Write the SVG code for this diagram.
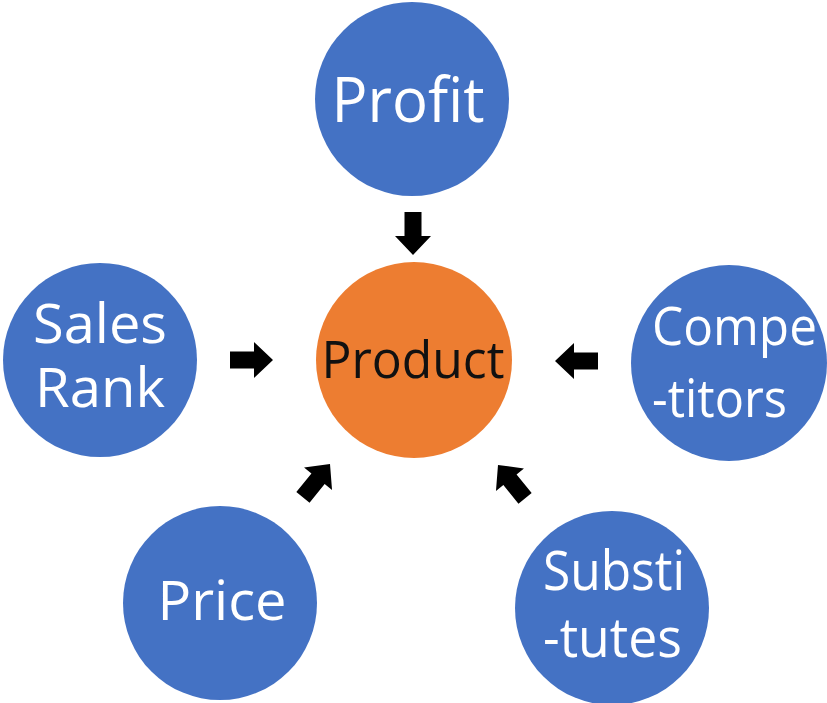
<svg xmlns="http://www.w3.org/2000/svg" width="827" height="703" viewBox="0 0 827 703">
<style>
.b{fill:#4472C4}
.o{fill:#ED7D31}
.t{font-family:"Open Sans","Noto Sans",sans-serif;fill:#ffffff}
.k{font-family:"Open Sans","Noto Sans",sans-serif;fill:#111111}
.a{fill:#000000}
</style>
<defs>
<path id="arr" d="M-43,-8.5 L-19,-8.5 L-19,-18 L0,0 L-19,18 L-19,8.5 L-43,8.5 Z"/>
</defs>
<rect width="827" height="703" fill="#ffffff"/>
<g id="connectors" class="a">
<use href="#arr" transform="translate(413,255) rotate(90)"/>
<use href="#arr" transform="translate(273,360)"/>
<use href="#arr" transform="translate(555,361) rotate(180)"/>
<use href="#arr" transform="translate(330,464) rotate(-51)"/>
<use href="#arr" transform="translate(498,465) rotate(-129)"/>
</g>
<g id="profit">
<circle class="b" cx="412" cy="99" r="97"/>
<text class="t" x="408" y="122" font-size="62" text-anchor="middle" textLength="153" lengthAdjust="spacingAndGlyphs">Profit</text>
</g>
<g id="product">
<circle class="o" cx="414" cy="360" r="98"/>
<text class="k" x="413" y="378" font-size="51" text-anchor="middle" textLength="183" lengthAdjust="spacingAndGlyphs">Product</text>
</g>
<g id="sales-rank">
<circle class="b" cx="100" cy="360" r="97"/>
<text class="t" x="100" y="343" font-size="55" text-anchor="middle" textLength="134" lengthAdjust="spacingAndGlyphs">Sales</text>
<text class="t" x="100" y="407" font-size="55" text-anchor="middle" textLength="130" lengthAdjust="spacingAndGlyphs">Rank</text>
</g>
<g id="competitors">
<circle class="b" cx="729" cy="363" r="98"/>
<text class="t" x="652" y="345" font-size="53" textLength="165" lengthAdjust="spacingAndGlyphs">Compe</text>
<text class="t" x="652" y="417" font-size="53" textLength="135" lengthAdjust="spacingAndGlyphs">-titors</text>
</g>
<g id="price">
<circle class="b" cx="220" cy="603" r="97"/>
<text class="t" x="222" y="620" font-size="55" text-anchor="middle" textLength="129" lengthAdjust="spacingAndGlyphs">Price</text>
</g>
<g id="substitutes">
<circle class="b" cx="612" cy="608" r="97"/>
<text class="t" x="543" y="590" font-size="54" textLength="142" lengthAdjust="spacingAndGlyphs">Substi</text>
<text class="t" x="543" y="657" font-size="54" textLength="139" lengthAdjust="spacingAndGlyphs">-tutes</text>
</g>
</svg>
